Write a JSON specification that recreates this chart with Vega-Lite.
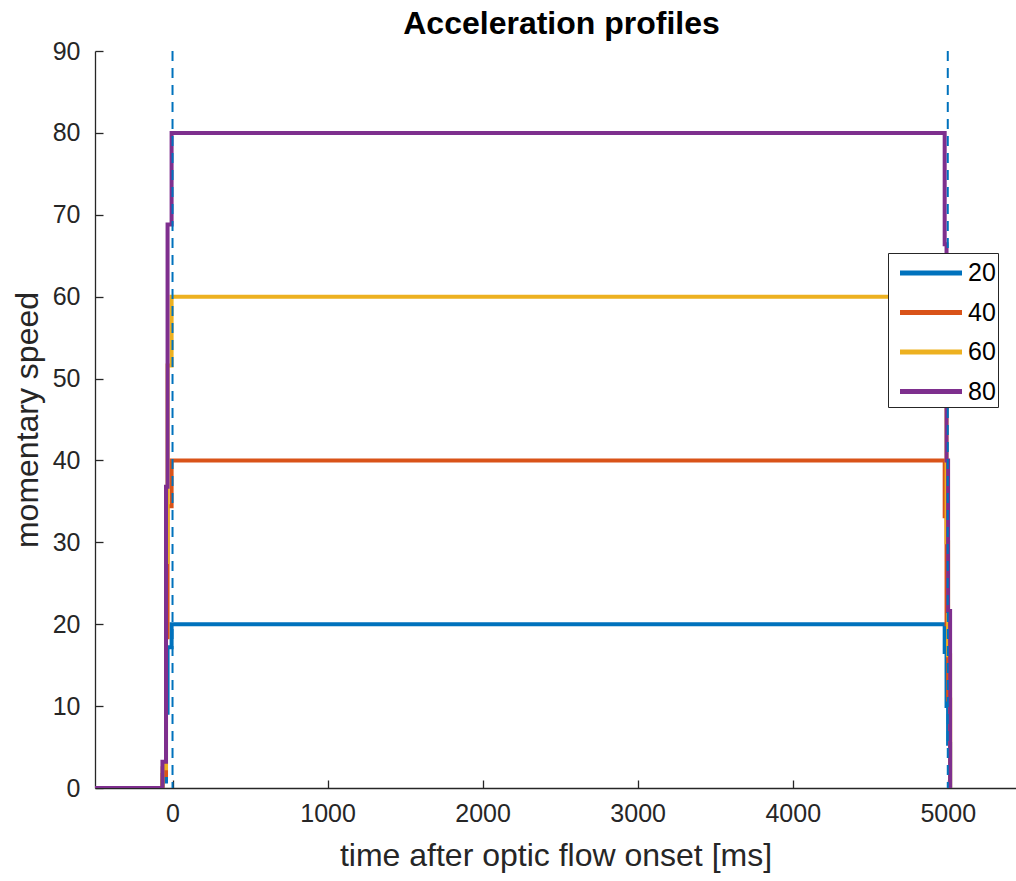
{
  "$schema": "https://vega.github.io/schema/vega-lite/v6.json",
  "autosize": {"type": "none"},
  "padding": {"left": 95, "top": 51, "right": 0, "bottom": 93},
  "width": 921,
  "height": 737,
  "background": "white",
  "title": {"text": "Acceleration profiles", "fontSize": 32, "font": "Liberation Sans", "fontWeight": "bold", "color": "#000000", "offset": -2, "dx": 6},
  "config": {
    "view": {"stroke": null},
    "axis": {"labelFont": "Liberation Sans", "titleFont": "Liberation Sans", "labelColor": "#262626", "titleColor": "#262626", "domainColor": "#262626", "tickColor": "#262626", "grid": false, "labelFontSize": 25, "titleFontSize": 32, "titleFontWeight": "normal", "domainWidth": 1.3, "tickWidth": 1.3, "tickSize": -8, "format": "d"}
  },
  "datasets": {
    "profiles": [
      {"t": -500, "speed": 0, "series": "20"}, {"t": -65, "speed": 0.8, "series": "20"}, {"t": -42, "speed": 9.2, "series": "20"}, {"t": -32, "speed": 17.2, "series": "20"}, {"t": -6, "speed": 20, "series": "20"}, {"t": 4980, "speed": 16.6, "series": "20"}, {"t": 4992, "speed": 10, "series": "20"}, {"t": 5002, "speed": 5.4, "series": "20"}, {"t": 5015, "speed": 0, "series": "20"},
      {"t": -500, "speed": 0, "series": "40"}, {"t": -65, "speed": 1.6, "series": "40"}, {"t": -42, "speed": 18.4, "series": "40"}, {"t": -32, "speed": 34.4, "series": "40"}, {"t": -6, "speed": 40, "series": "40"}, {"t": 4980, "speed": 33.2, "series": "40"}, {"t": 4992, "speed": 20, "series": "40"}, {"t": 5002, "speed": 10.8, "series": "40"}, {"t": 5015, "speed": 0, "series": "40"},
      {"t": -500, "speed": 0, "series": "60"}, {"t": -65, "speed": 2.4, "series": "60"}, {"t": -42, "speed": 27.6, "series": "60"}, {"t": -32, "speed": 51.6, "series": "60"}, {"t": -6, "speed": 60, "series": "60"}, {"t": 4980, "speed": 49.8, "series": "60"}, {"t": 4992, "speed": 30, "series": "60"}, {"t": 5002, "speed": 16.2, "series": "60"}, {"t": 5015, "speed": 0, "series": "60"},
      {"t": -500, "speed": 0, "series": "80"}, {"t": -65, "speed": 3.2, "series": "80"}, {"t": -42, "speed": 36.8, "series": "80"}, {"t": -32, "speed": 68.8, "series": "80"}, {"t": -6, "speed": 80, "series": "80"}, {"t": 4980, "speed": 66.4, "series": "80"}, {"t": 4992, "speed": 40, "series": "80"}, {"t": 5002, "speed": 21.6, "series": "80"}, {"t": 5015, "speed": 0, "series": "80"}
    ],
    "markers": [{"t": 0}, {"t": 5000}]
  },
  "layer": [
    {
      "data": {"name": "profiles"},
      "mark": {"type": "line", "interpolate": "step-after", "strokeWidth": 4, "clip": true},
      "encoding": {
        "x": {"field": "t", "type": "quantitative", "scale": {"domain": [-500, 5440], "nice": false, "zero": false},
              "axis": {"values": [0, 1000, 2000, 3000, 4000, 5000], "title": "time after optic flow onset [ms]", "labelPadding": 21, "titlePadding": 14}},
        "y": {"field": "speed", "type": "quantitative", "scale": {"domain": [0, 90], "nice": false},
              "axis": {"values": [0, 10, 20, 30, 40, 50, 60, 70, 80, 90], "title": "momentary speed", "labelPadding": 23, "titlePadding": 8}},
        "color": {"field": "series", "type": "nominal",
                  "scale": {"domain": ["20", "40", "60", "80"], "range": ["#0072BD", "#D95319", "#EDB120", "#7E2F8E"]},
                  "legend": {"title": null, "orient": "none", "legendX": 793, "legendY": 202, "symbolType": "M-2,0H2", "symbolStrokeWidth": 5, "symbolSize": 961, "symbolOffset": 23, "labelOffset": 19, "labelFontSize": 25, "labelFont": "Liberation Sans", "labelColor": "#000000", "strokeColor": "#262626", "fillColor": "white", "padding": 2, "rowPadding": 8.5}}
      }
    },
    {
      "data": {"name": "markers"},
      "mark": {"type": "rule", "color": "#0072BD", "strokeWidth": 2, "strokeDash": [10, 7]},
      "encoding": {"x": {"field": "t", "type": "quantitative"}}
    }
  ]
}
